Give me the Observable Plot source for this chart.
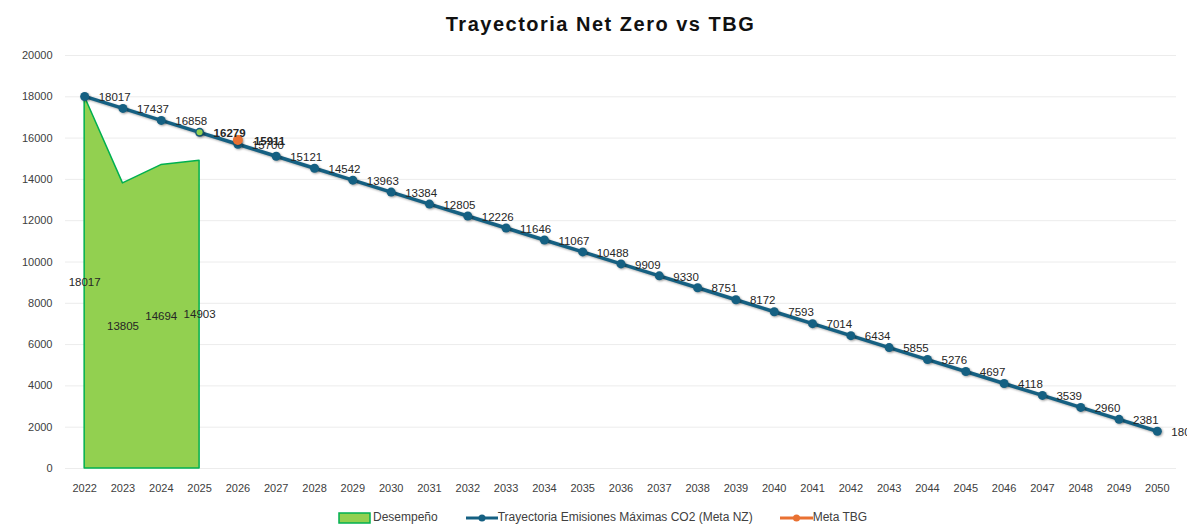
<!DOCTYPE html>
<html><head><meta charset="utf-8">
<script src="https://cdn.jsdelivr.net/npm/d3@7"></script>
<script src="https://cdn.jsdelivr.net/npm/@observablehq/plot@0.6"></script>
<style>
body{margin:0;background:#fff;font-family:"Liberation Sans",Arial,sans-serif;width:1187px;height:525px;overflow:hidden;}
#title{height:40px;box-sizing:border-box;padding-top:12px;padding-left:14px;text-align:center;font-size:20px;font-weight:bold;letter-spacing:1.5px;color:#111;line-height:24px;}
#chart{height:460px;}
#legend{height:25px;box-sizing:border-box;padding-top:10px;padding-left:338px;display:flex;align-items:center;font-size:12px;color:#404040;line-height:13px;}
.item{display:flex;align-items:center;}
</style></head><body>
<div id="title">Trayectoria Net Zero vs TBG</div>
<div id="chart"></div>
<div id="legend"></div>
<script>
const years = [2022,2023,2024,2025,2026,2027,2028,2029,2030,2031,2032,2033,2034,2035,2036,2037,2038,2039,2040,2041,2042,2043,2044,2045,2046,2047,2048,2049,2050];
const trajectory = [18017,17437,16858,16279,15700,15121,14542,13963,13384,12805,12226,11646,11067,10488,9909,9330,8751,8172,7593,7014,6434,5855,5276,4697,4118,3539,2960,2381,1802];
const perfYears = [2022,2023,2024,2025];
const perfValues = [18017,13805,14694,14903];
const metaYears = [2026];
const metaValues = [15911];
const markerYears = [2025];
const markerValues = [16279];
const yTicks = [0,2000,4000,6000,8000,10000,12000,14000,16000,18000,20000];
const seriesNames = ["Desempeño","Trayectoria Emisiones Máximas CO2 (Meta NZ)","Meta TBG"];

const BLUE = "#156082", ORANGE = "#e97132", GREEN = "#92d050", GREEN_EDGE = "#00b050";

const traj = years.map((y,i)=>({year:y, value:trajectory[i]}));
const perf = perfYears.map((y,i)=>({year:y, value:perfValues[i]}));
const meta = metaYears.map((y,i)=>({year:y, value:metaValues[i]}));
const marker = markerYears.map((y,i)=>({year:y, value:markerValues[i]}));
const boldYears = [2025];

const chart = Plot.plot({
  width:1187, height:460,
  marginLeft:65, marginRight:11, marginTop:15, marginBottom:32,
  x:{domain:[2021.5,2050.5]},
  y:{domain:[0,20000]},
  style:{fontFamily:"'Liberation Sans', Arial, sans-serif", fontSize:"11px", color:"#262626", background:"#fff"},
  marks:[
    Plot.gridY(yTicks,{stroke:"#ececec", strokeOpacity:1}),
    Plot.axisX(years,{tickSize:0, tickPadding:16, tickFormat:"d", fontSize:11, fill:"#404040", label:null}),
    Plot.axisY(yTicks,{tickSize:0, tickPadding:13, tickFormat:"d", fontSize:11, fill:"#404040", label:null}),
    Plot.areaY(perf,{x:"year", y:"value", fill:GREEN, stroke:GREEN_EDGE, strokeWidth:1.5}),
    Plot.text(perf,{x:"year", y:d=>d.value/2, text:d=>String(d.value), fill:"#262626", fontSize:11.5}),
    Plot.line(traj,{x:"year", y:"value", stroke:BLUE, strokeWidth:3.5}),
    Plot.dot(traj,{x:"year", y:"value", r:4.5, fill:BLUE}),
    Plot.dot(marker,{x:"year", y:"value", r:3, fill:GREEN}),
    Plot.dot(meta,{x:"year", y:"value", r:5, fill:ORANGE}),
    Plot.text(traj.filter(d=>!boldYears.includes(d.year)),{x:"year", y:"value", text:d=>String(d.value), dx:14, dy:1, textAnchor:"start", fill:"#262626", fontSize:11.5}),
    Plot.text(traj.filter(d=>boldYears.includes(d.year)),{x:"year", y:"value", text:d=>String(d.value), dx:14, dy:1, textAnchor:"start", fill:"#262626", fontSize:11.5, fontWeight:"bold"}),
    Plot.text(meta,{x:"year", y:"value", text:d=>String(d.value), dx:16, dy:1, textAnchor:"start", fill:"#262626", fontSize:11.5, fontWeight:"bold"})
  ]
});
document.getElementById("chart").appendChild(chart);
d3.select(chart).selectAll('g[aria-label="line"], g[aria-label="dot"]').style("filter","drop-shadow(1px 1.5px 1.2px rgba(0,0,0,0.35))");

const legend = d3.select("#legend");
const it1 = legend.append("div").attr("class","item").style("margin-right","28px");
it1.append("svg").attr("width",35).attr("height",12).style("margin-right","0px").append("rect").attr("x",1).attr("y",1).attr("width",31).attr("height",10).attr("fill",GREEN).attr("stroke",GREEN_EDGE).attr("stroke-width",1.5);
it1.append("span").text(seriesNames[0]);
const it2 = legend.append("div").attr("class","item").style("margin-right","27px");
const s2 = it2.append("svg").attr("width",32).attr("height",12);
s2.append("line").attr("x1",0).attr("x2",32).attr("y1",6).attr("y2",6).attr("stroke",BLUE).attr("stroke-width",3);
s2.append("circle").attr("cx",16).attr("cy",6).attr("r",3.5).attr("fill",BLUE);
it2.append("span").text(seriesNames[1]);
const it3 = legend.append("div").attr("class","item");
const s3 = it3.append("svg").attr("width",33).attr("height",12);
s3.append("line").attr("x1",0).attr("x2",33).attr("y1",6).attr("y2",6).attr("stroke",ORANGE).attr("stroke-width",3);
s3.append("circle").attr("cx",16.5).attr("cy",6).attr("r",3.5).attr("fill",ORANGE);
it3.append("span").text(seriesNames[2]);
</script>
</body></html>
